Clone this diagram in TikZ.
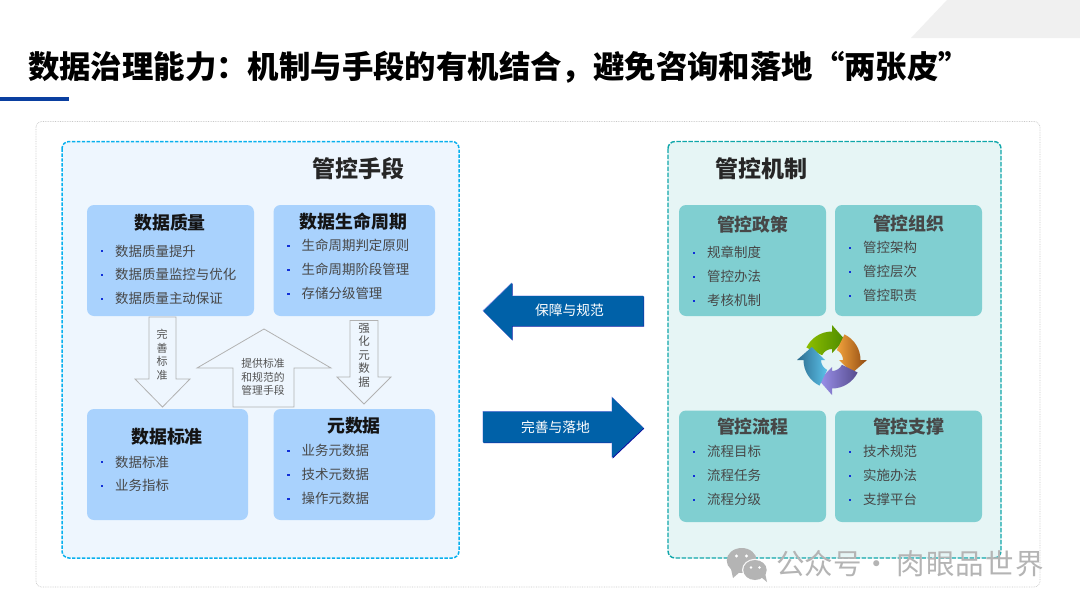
\documentclass[tikz,border=0pt]{standalone}
\usepackage{fontspec}
\setmainfont{Noto Sans CJK SC}
\definecolor{leftbg}{HTML}{EEF6FE}
\definecolor{rightbg}{HTML}{E6F5F5}
\definecolor{leftedge}{HTML}{08B0EE}
\definecolor{tealedge}{HTML}{0FA6AA}
\definecolor{cardblue}{HTML}{A9D2FD}
\definecolor{cardteal}{HTML}{80CFD1}
\definecolor{bulletblue}{HTML}{1030D8}
\definecolor{deepblue}{HTML}{0061A8}
\definecolor{edgedark}{HTML}{0A10A0}
\definecolor{edgelight}{HTML}{8C90E8}
\definecolor{barblue}{HTML}{0A3FA0}
\definecolor{markgray}{HTML}{B4B4B4}
\definecolor{greenA}{HTML}{8DBE00}
\definecolor{greenB}{HTML}{4C8A00}
\definecolor{orangeA}{HTML}{F2A23C}
\definecolor{orangeB}{HTML}{8F4A12}
\definecolor{purpleA}{HTML}{9C92EC}
\definecolor{purpleB}{HTML}{564C8E}
\definecolor{skyA}{HTML}{2C6C8E}
\definecolor{skyB}{HTML}{5CC2EA}
\begin{document}
\begin{tikzpicture}[x=1pt,y=-1pt,
  panelL/.style={draw=leftedge,fill=leftbg,line width=1.5pt,dash pattern=on 3.4pt off 1.5pt,rounded corners=7pt},
  panelR/.style={draw=tealedge,fill=rightbg,line width=1.4pt,dash pattern=on 4.5pt off 1.5pt,rounded corners=7pt},
  blueCard/.style={fill=cardblue,rounded corners=7pt},
  tealCard/.style={fill=cardteal,rounded corners=7pt},
  heading/.style={font=\fontsize{17.9}{20}\selectfont\bfseries,text=black!92,inner sep=0pt},
  tealHead/.style={font=\fontsize{17.9}{20}\selectfont\bfseries,text=black!72,inner sep=0pt},
  panelTitle/.style={font=\fontsize{23}{26}\selectfont\bfseries,text=black!85,inner sep=0pt},
  entry/.style={anchor=west,font=\fontsize{13.45}{16}\selectfont,text=black!72,inner sep=0pt},
  dot/.style={fill=bulletblue,minimum size=2.4pt,inner sep=0pt,outer sep=0pt},
  hollowArrow/.style={draw=black!30,fill=leftbg,line width=0.8pt,line join=miter},
  arrowWord/.style={font=\fontsize{11}{13.5}\selectfont,text=black!68,inner sep=0pt,align=center},
  solidWord/.style={font=\fontsize{13.8}{16}\selectfont,text=white,inner sep=0pt},
]
\useasboundingbox (0,0) rectangle (1080,608);
\fill[white] (0,0) rectangle (1080,608);

% header
\fill[black!6] (947,0) -- (1080,0) -- (1080,38) -- (911,38) -- cycle;
\fill[barblue] (0,96.5) rectangle (69,101);
\node[anchor=west,inner sep=0pt,font=\fontsize{31.4}{34}\selectfont\bfseries,text=black] (title) at (28,67)
  {数据治理能力：机制与手段的有机结合，避免咨询和落地“两张皮”};

% frames
\draw[black!22,line width=0.7pt,densely dotted,rounded corners=6pt] (36,121.5) rectangle (1040,587);
\draw[panelL] (62,141.5) rectangle (459,558);
\draw[panelR] (668,141.5) rectangle (1001,558);
\node[panelTitle] (leftTitle) at (358,168.5) {管控手段};
\node[panelTitle] (rightTitle) at (761.5,168.5) {管控机制};

% left cards
\fill[blueCard] (87,205) rectangle (254,316);
\fill[blueCard] (273.5,205) rectangle (435,316);
\fill[blueCard] (87,409) rectangle (248,520);
\fill[blueCard] (273.5,409) rectangle (435,520);

\node[heading] (qualityHead) at (170,223) {数据质量};
\node[dot] (q1d) at (102,251) {}; \node[entry] (q1) at (115,251) {数据质量提升};
\node[dot] (q2d) at (102,275) {}; \node[entry] (q2) at (115,274) {数据质量监控与优化};
\node[dot] (q3d) at (102,299) {}; \node[entry] (q3) at (115,298.5) {数据质量主动保证};

\node[heading] (lifeHead) at (353.5,221.5) {数据生命周期};
\node[dot] (l1d) at (288.5,246) {}; \node[entry] (l1) at (301.5,245) {生命周期判定原则};
\node[dot] (l2d) at (288.5,270) {}; \node[entry] (l2) at (301.5,269) {生命周期阶段管理};
\node[dot] (l3d) at (288.5,294) {}; \node[entry] (l3) at (301.5,293) {存储分级管理};

\node[heading] (standardHead) at (167,437) {数据标准};
\node[dot] (s1d) at (102,462) {}; \node[entry] (s1) at (115,462) {数据标准};
\node[dot] (s2d) at (102,486) {}; \node[entry] (s2) at (115,485) {业务指标};

\node[heading] (metaHead) at (354,426) {元数据};
\node[dot] (m1d) at (288.5,451) {}; \node[entry] (m1) at (301.5,450) {业务元数据};
\node[dot] (m2d) at (288.5,475) {}; \node[entry] (m2) at (301.5,474) {技术元数据};
\node[dot] (m3d) at (288.5,499) {}; \node[entry] (m3) at (301.5,498) {操作元数据};

% hollow block arrows between the cards
\draw[hollowArrow] (149,317) -- (176,317) -- (176,379) -- (190,379) -- (162.5,407) -- (135,379) -- (149,379) -- cycle;
\node[arrowWord] (improveWord) at (162,355) {完\\善\\标\\准};
\draw[hollowArrow] (264,329) -- (331,368) -- (294,368) -- (294,407) -- (233,407) -- (233,368) -- (197,368) -- cycle;
\node[arrowWord,font=\fontsize{10.8}{13.5}\selectfont] (provideWord) at (263,377) {提供标准\\和规范的\\管理手段};
\draw[hollowArrow] (350,320.5) -- (378,320.5) -- (378,377) -- (391,377) -- (364,404) -- (337,377) -- (350,377) -- cycle;
\node[arrowWord,font=\fontsize{11.5}{13.5}\selectfont] (strengthenWord) at (364,355) {强\\化\\元\\数\\据};

% solid block arrows between the panels
\fill[edgedark] (483.6,311.6) -- (512.6,340.6) -- (512.6,326.6) -- (644.2,326.6) -- (644.2,296.6) -- (512.6,296.6) -- (512.6,283.6) -- cycle;
\fill[edgelight] (482.6,310.6) -- (511.6,339.6) -- (511.6,325.6) -- (643.2,325.6) -- (643.2,295.6) -- (511.6,295.6) -- (511.6,282.6) -- cycle;
\fill[deepblue] (483.4,311) -- (512,339.6) -- (512,326) -- (643.6,326) -- (643.6,296) -- (512,296) -- (512,283) -- cycle;
\node[solidWord] (guardWord) at (569.5,310.5) {保障与规范};

\fill[edgedark] (483.6,412) -- (483.6,443) -- (612.6,443) -- (612.6,458.6) -- (644.2,428.6) -- (612.6,397.6) -- (612.6,412) -- cycle;
\fill[edgelight] (482.6,411) -- (482.6,442) -- (611.6,442) -- (611.6,457.6) -- (643.2,427.6) -- (611.6,396.6) -- (611.6,411) -- cycle;
\fill[deepblue] (483,411.5) -- (483,442.5) -- (612,442.5) -- (612,457.6) -- (643.4,428) -- (612,397.4) -- (612,411.5) -- cycle;
\node[solidWord] (landWord) at (555.5,427) {完善与落地};

% right cards
\fill[tealCard] (679,205) rectangle (826,316);
\fill[tealCard] (835,205) rectangle (982,316);
\fill[tealCard] (679,410.5) rectangle (826,522);
\fill[tealCard] (835,410.5) rectangle (982,522);

\node[tealHead] (policyHead) at (752.8,225) {管控政策};
\node[dot] (p1d) at (694,253) {}; \node[entry] (p1) at (707,252) {规章制度};
\node[dot] (p2d) at (694,277) {}; \node[entry] (p2) at (707,276) {管控办法};
\node[dot] (p3d) at (694,301) {}; \node[entry] (p3) at (707,300) {考核机制};

\node[tealHead] (orgHead) at (908.8,224) {管控组织};
\node[dot] (o1d) at (850,248) {}; \node[entry] (o1) at (863,247) {管控架构};
\node[dot] (o2d) at (850,272) {}; \node[entry] (o2) at (863,271) {管控层次};
\node[dot] (o3d) at (850,296) {}; \node[entry] (o3) at (863,295) {管控职责};

\node[tealHead] (flowHead) at (752.8,427) {管控流程};
\node[dot] (f1d) at (694,452) {}; \node[entry] (f1) at (707,451) {流程目标};
\node[dot] (f2d) at (694,476) {}; \node[entry] (f2) at (707,475) {流程任务};
\node[dot] (f3d) at (694,500) {}; \node[entry] (f3) at (707,499.5) {流程分级};

\node[tealHead] (supportHead) at (908.8,427) {管控支撑};
\node[dot] (u1d) at (850,452) {}; \node[entry] (u1) at (863,451) {技术规范};
\node[dot] (u2d) at (850,476) {}; \node[entry] (u2) at (863,475) {实施办法};
\node[dot] (u3d) at (850,500) {}; \node[entry] (u3) at (863,499.5) {支撑平台};

% four-arrow cycle symbol
\begin{scope}[shift={(832,360)},x=1pt,y=1pt]
  \foreach \base/\ca/\cb in {
      90/greenA/greenB,
      0/orangeA/orangeB,
      270/purpleA/purpleB,
      180/skyA/skyB}{
    \shade[left color=\ca,right color=\cb]
      (\base+64:28.5) arc[start angle=\base+64,end angle=\base,radius=28.5]
      -- (\base:35) -- (\base-33:24) -- (\base:7)
      -- (\base:11) arc[start angle=\base,end angle=\base+64,radius=11] -- cycle;
  }
\end{scope}

% publisher mark
\fill[markgray] (741.7,560.5) ellipse (15 and 12.5);
\fill[markgray] (731,569) -- (733,578) -- (741,571) -- cycle;
\fill[white,opacity=0.9] (755,570) ellipse (13 and 11.2);
\fill[markgray] (755,570) ellipse (11.7 and 10);
\fill[markgray] (761,577) -- (767,582) -- (765,573) -- cycle;
\fill[white] (736.5,556) circle (1.7);
\fill[white] (746.5,556) circle (1.7);
\fill[white] (751,567.5) circle (1.3);
\fill[white] (759.5,567.5) circle (1.3);
\node[anchor=west,inner sep=0pt,font=\fontsize{28.5}{32}\selectfont,text=markgray] (markText) at (776,564)
  {公众号\hspace{1pt}·\hspace{5pt}肉\hspace{1.4pt}眼\hspace{1.4pt}品\hspace{1.4pt}世\hspace{1.4pt}界};
\end{tikzpicture}
\end{document}
